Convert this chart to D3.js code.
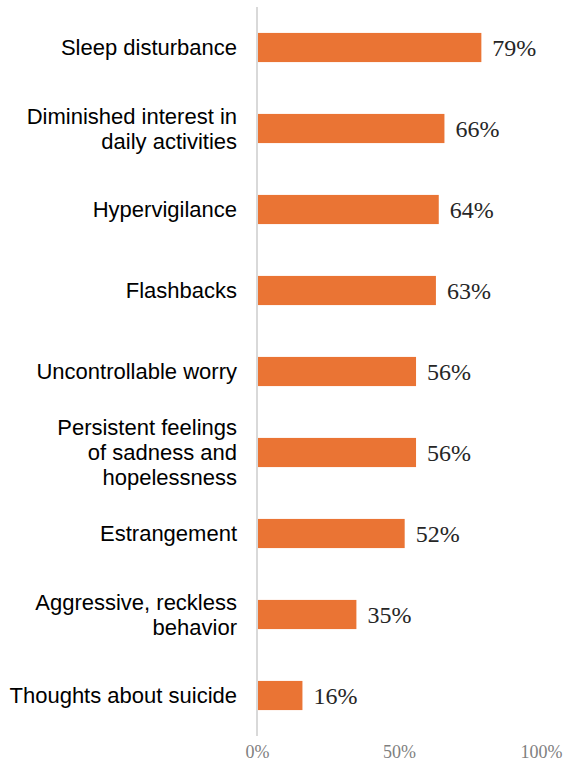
<!doctype html>
<html>
<head>
<style>
body { margin:0; background:#fff; }
.cat { font-family:"Liberation Sans", Arial, sans-serif; font-size:22px; fill:#000; }
.val { font-family:"Liberation Serif", "Times New Roman", serif; font-size:24px; fill:#262626; }
.tick text { font-family:"Liberation Serif", "Times New Roman", serif; font-size:18px; fill:#7f7f7f; }
</style>
<script src="https://d3js.org/d3.v7.min.js"></script>
</head>
<body>
<script>
var categories = [
  ["Sleep disturbance"],
  ["Diminished interest in", "daily activities"],
  ["Hypervigilance"],
  ["Flashbacks"],
  ["Uncontrollable worry"],
  ["Persistent feelings", "of sadness and", "hopelessness"],
  ["Estrangement"],
  ["Aggressive, reckless", "behavior"],
  ["Thoughts about suicide"]
];
var values = [79, 66, 64, 63, 56, 56, 52, 35, 16];
var tickValues = [0, 50, 100];

var width = 563, height = 763;

var svg = d3.select("body").append("svg")
  .attr("width", width)
  .attr("height", height);

var x = d3.scaleLinear().domain([0, 100]).range([257, 541]);
var y = d3.scaleBand()
  .domain(d3.range(values.length))
  .range([7, 736])
  .paddingInner(0.64)
  .paddingOuter(0.32);

// bars
svg.selectAll("rect.bar")
  .data(values)
  .enter().append("rect")
  .attr("class", "bar")
  .attr("x", x(0))
  .attr("y", function(d, i) { return y(i); })
  .attr("width", function(d) { return x(d) - x(0); })
  .attr("height", y.bandwidth())
  .attr("fill", "#EA7434");

// vertical axis line
svg.append("line")
  .attr("x1", x(0)).attr("x2", x(0))
  .attr("y1", 7).attr("y2", 736)
  .attr("stroke", "#d9d9d9")
  .attr("stroke-width", 2);

// value labels
svg.selectAll("text.val")
  .data(values)
  .enter().append("text")
  .attr("class", "val")
  .attr("x", function(d) { return x(d) + 11; })
  .attr("y", function(d, i) { return y(i) + y.bandwidth() / 2; })
  .attr("dy", "0.35em")
  .text(function(d) { return d + "%"; });

// category labels
var lineH = 25;
svg.selectAll("text.cat")
  .data(categories)
  .enter().append("text")
  .attr("class", "cat")
  .attr("text-anchor", "end")
  .each(function(lines, i) {
    var cy = y(i) + y.bandwidth() / 2;
    var start = cy - (lines.length - 1) * lineH / 2;
    d3.select(this).selectAll("tspan")
      .data(lines)
      .enter().append("tspan")
      .attr("x", 237)
      .attr("y", function(l, j) { return start + j * lineH; })
      .attr("dy", "0.35em")
      .text(function(l) { return l; });
  });

// x axis ticks (no line)
var xAxis = d3.axisBottom(x)
  .tickValues(tickValues)
  .tickSize(0)
  .tickPadding(0)
  .tickFormat(function(d) { return d + "%"; });

var gx = svg.append("g")
  .attr("transform", "translate(0,745)")
  .call(xAxis);
gx.select(".domain").remove();
gx.selectAll("text").attr("dy", "0.71em").attr("font-family", null).attr("font-size", null).attr("fill", null);
</script>
</body>
</html>
